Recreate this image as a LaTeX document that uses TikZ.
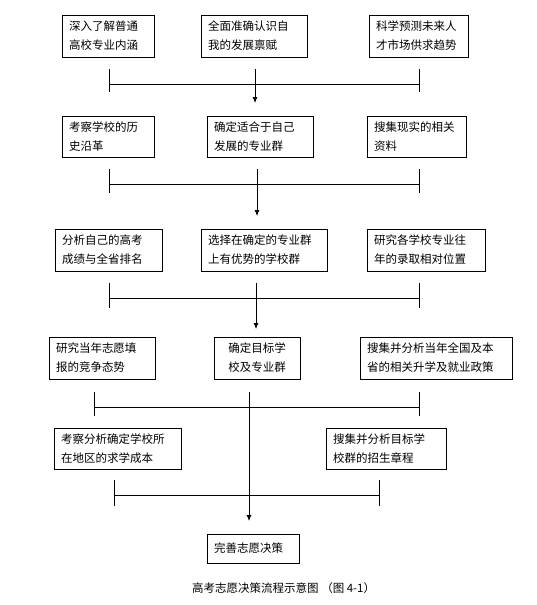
\documentclass[tikz,border=0pt]{standalone}
\usepackage{fontspec}
\newfontfamily\cjk{Noto Sans CJK SC}
\usetikzlibrary{arrows.meta}
\tikzset{
  box/.style={draw, line width=0.9pt, inner sep=0pt, align=left,
    font=\cjk\fontsize{11.5}{19}\selectfont},
  link/.style={line width=0.8pt},
  arrowlink/.style={line width=0.8pt, -{Latex[length=6pt,width=5pt]}},
}
\newcommand{\flowbox}[7][align=left]{%
  \pgfmathsetmacro{\bw}{#5-#3}%
  \pgfmathsetmacro{\bh}{#6-#4}%
  \pgfmathsetmacro{\tw}{#5-#3-14}%
  \pgfmathsetmacro{\cx}{(#3+#5)/2}%
  \pgfmathsetmacro{\cy}{(#4+#6)/2}%
  \node[box, #1, minimum width=\bw pt, minimum height=\bh pt, text width=\tw pt] (#2) at (\cx,\cy) {#7};}
\newcommand{\bracketlines}[6]{% prefix, xl, xr, ytop, ybot, yh
  \coordinate (#1lt) at (#2,#4); \coordinate (#1lb) at (#2,#5);
  \coordinate (#1rt) at (#3,#4); \coordinate (#1rb) at (#3,#5);
  \coordinate (#1hl) at (#2,#6); \coordinate (#1hr) at (#3,#6);
  \draw[link] (#1lt) -- (#1lb);
  \draw[link] (#1rt) -- (#1rb);
  \draw[link] (#1hl) -- (#1hr);}
\begin{document}
\begin{tikzpicture}[x=1pt,y=-1pt]
\useasboundingbox (0,0) rectangle (536,605);
\fill[white] (0,0) rectangle (536,605);
% row 1
\flowbox{r1a}{62}{15}{154}{57}{深入了解普通\\高校专业内涵}
\flowbox{r1b}{201}{15}{307}{57}{全面准确认识自\\我的发展禀赋}
\flowbox{r1c}{369}{15}{468}{57}{科学预测未来人\\才市场供求趋势}
% row 2
\flowbox{r2a}{62}{116}{154}{157}{考察学校的历\\史沿革}
\flowbox{r2b}{207}{116}{313}{157}{确定适合于自己\\发展的专业群}
\flowbox{r2c}{367}{116}{466}{157}{搜集现实的相关\\资料}
% row 3
\flowbox{r3a}{55}{229}{162}{271}{分析自己的高考\\成绩与全省排名}
\flowbox{r3b}{201}{229}{327}{271}{选择在确定的专业群\\上有优势的学校群}
\flowbox{r3c}{367}{229}{485}{271}{研究各学校专业往\\年的录取相对位置}
% row 4
\flowbox{r4a}{49}{337}{155}{379}{研究当年志愿填\\报的竞争态势}
\flowbox[align=center]{r4b}{214}{337}{300}{379}{确定目标学\\校及专业群}
\flowbox{r4c}{360}{337}{512}{379}{搜集并分析当年全国及本\\省的相关升学及就业政策}
% row 5
\flowbox{r5a}{54}{428}{181}{469}{考察分析确定学校所\\在地区的求学成本}
\flowbox{r5c}{326}{428}{446}{469}{搜集并分析目标学\\校群的招生章程}
% final
\flowbox{fin}{207}{534}{299}{563}{完善志愿决策}
% brackets
\bracketlines{ba}{109}{419}{69}{92}{84}
\bracketlines{bb}{109}{419}{169}{193}{184}
\bracketlines{bc}{109}{419}{283}{308}{298}
\bracketlines{bd}{94}{419}{392}{416}{407}
\bracketlines{be}{114}{379}{480}{506}{495}
% central arrows
\coordinate (a1s) at (255,69);  \coordinate (a1e) at (255,103);
\coordinate (a2s) at (257,169); \coordinate (a2e) at (257,216);
\coordinate (a3s) at (256,283); \coordinate (a3e) at (256,329);
\coordinate (a4s) at (249,392); \coordinate (a4e) at (249,521);
\draw[arrowlink] (a1s) -- (a1e);
\draw[arrowlink] (a2s) -- (a2e);
\draw[arrowlink] (a3s) -- (a3e);
\draw[arrowlink] (a4s) -- (a4e);
% caption
\node[anchor=west, inner sep=0pt, font=\cjk\fontsize{11.5}{14}\selectfont] (cap) at (192,588) {高考志愿决策流程示意图 （图 4-1）};
\end{tikzpicture}
\end{document}
